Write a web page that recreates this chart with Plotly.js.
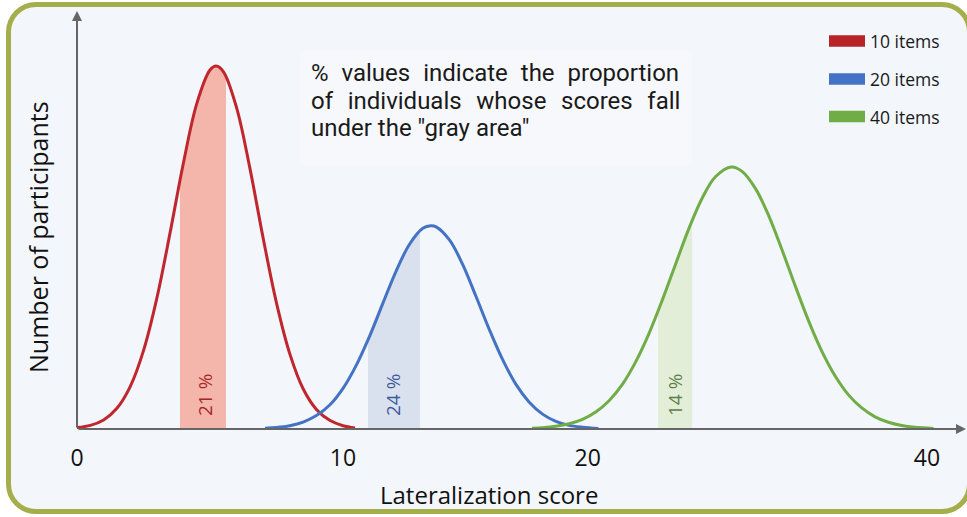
<!DOCTYPE html>
<html>
<head>
<meta charset="utf-8">
<script src="https://cdn.plot.ly/plotly-3.0.1.min.js"></script>
<style>
html,body{margin:0;padding:0;background:#ffffff;}
#wrap{position:relative;width:967px;height:517px;overflow:hidden;}
#frame{position:absolute;left:6px;top:2px;width:966px;height:512px;box-sizing:border-box;border:5px solid #a4ae4a;border-radius:30px;background:#f3f6fa;}
#plot{position:absolute;left:0;top:0;width:967px;height:517px;}
</style>
</head>
<body>
<div id="wrap">
<div id="frame"></div>
<div id="plot"></div>
</div>
<script>
// ---- data (x in display units of the schematic axis, y in relative count units) ----
const red_x = [0,0.5,1,1.5,2,2.5,3,3.5,4,4.5,5,5.23,5.5,6,6.5,7,7.5,8,8.5,9,9.5,10,10.45];
const red_y = [0.4,1.0,2.5,5.7,11.7,21.6,36.0,54.1,73.3,89.6,98.9,100,98.5,88.5,71.8,52.5,34.7,20.7,11.1,5.4,2.4,0.9,0.3];
const blue_x = [7.07,7.5,8,8.5,9,9.5,10,10.5,11,11.5,12,12.5,13,13.3,13.5,14,14.5,15,15.5,16,16.5,17,17.5,18,18.5,19,19.6];
const blue_y = [0.2,0.4,0.9,1.9,3.7,6.6,11.2,17.6,25.6,34.7,43.6,50.9,55.3,56,55.7,52.1,45.3,36.5,27.4,19.1,12.3,7.4,4.1,2.1,1.0,0.5,0.15];
const green_x = [17.1,17.5,18,18.5,19,19.5,20,20.5,21,21.5,22,22.5,23,23.5,24,24.6,25,25.5,26,26.5,27,27.5,28,28.5,29,29.5,30,30.5,31,31.5,32.2];
const green_y = [0.2,0.36,0.74,1.44,2.66,4.68,7.79,12.3,18.5,26.3,35.5,45.4,55.2,63.6,69.5,72.2,71.0,66.3,58.8,49.4,39.4,29.8,21.4,14.6,9.4,5.8,3.36,1.85,0.97,0.48,0.17];
// shaded "gray area" bands
const red_band_x = [3.87,4,4.5,5,5.23,5.6];
const red_band_y = [68.4,73.3,89.6,98.9,100,97.2];
const blue_band_x = [10.94,11,11.5,12,12.5,12.89];
const blue_band_y = [24.6,25.6,34.7,43.6,50.9,54.6];
const green_band_x = [21.84,22,22.5,23,23.12];
const green_band_y = [32.4,35.5,45.4,55.2,57.3];
const band_labels = ["21 %","24 %","14 %"];
const series_names = ["10 items","20 items","40 items"];
const tick_vals = [0,10,19.2,31.95];
const tick_text = ["0","10","20","40"];
const x_title = "Lateralization score";
const y_title = "Number of participants";
const note_lines = ["% values indicate the proportion","of individuals whose scores fall","under the \"gray area\""];

// ---- styles ----
const cRed = "#c0262d", cBlue = "#4472c4", cGreen = "#70ad47";
const fRed = "#f4b6aa", fBlue = "#d9e0ee", fGreen = "#e2eed8";

function band(x, y, color){
  return {x:x, y:y, type:"scatter", mode:"lines", line:{width:0, shape:"spline", color:color},
          fill:"tozeroy", fillcolor:color, hoverinfo:"skip", showlegend:false};
}
function curve(x, y, color, name){
  return {x:x, y:y, type:"scatter", mode:"lines", name:name,
          line:{color:color, width:3, shape:"spline", smoothing:1}, showlegend:false};
}

const traces = [
  band(red_band_x, red_band_y, fRed),
  band(blue_band_x, blue_band_y, fBlue),
  band(green_band_x, green_band_y, fGreen),
  curve(red_x, red_y, cRed, series_names[0]),
  curve(blue_x, blue_y, cBlue, series_names[1]),
  curve(green_x, green_y, cGreen, series_names[2])
];

const W = 967, H = 517;
const L = 77, R = 2, T = 12, B = 88;
const xMax = 33.38, yMax = 114.9;

// pixel helpers for decoration placement
const px = p => (p - L) / (W - L - R) * xMax;
const py = p => (H - B - p) / (H - B - T) * yMax;
const ppx = p => (p - L) / (W - L - R);
const ppy = p => (H - B - p) / (H - B - T);

const annotations = [];
// axis arrows
annotations.push({x:px(966), y:0, ax:0, ay:0, xref:"x", yref:"y", axref:"x", ayref:"y",
  showarrow:true, arrowhead:2, arrowsize:1, arrowwidth:2, arrowcolor:"#666666", text:""});
annotations.push({x:0, y:py(11), ax:0, ay:0, xref:"x", yref:"y", axref:"x", ayref:"y",
  showarrow:true, arrowhead:2, arrowsize:1, arrowwidth:2, arrowcolor:"#666666", text:""});

// axis titles (paper coordinates so they can sit outside the plot area)
annotations.push({x:ppx(489), y:ppy(495), xref:"paper", yref:"paper", xanchor:"center", yanchor:"middle",
  text:x_title, showarrow:false, font:{family:"Open Sans", size:24, color:"#111"}});
annotations.push({x:ppx(38), y:ppy(237), xref:"paper", yref:"paper", xanchor:"center", yanchor:"middle",
  text:y_title, showarrow:false, textangle:-90, font:{family:"Open Sans", size:25, color:"#111"}});

// band labels
const bandLabelPos = [[205,"#a5272b"],[393,"#3c5b9b"],[675,"#5d7f48"]];
band_labels.forEach((t,i)=>{
  annotations.push({x:px(bandLabelPos[i][0]), y:py(395), xref:"x", yref:"y", text:t, showarrow:false,
    textangle:-90, font:{family:"Open Sans", size:19, color:bandLabelPos[i][1]}});
});

// note text (justified lines)
const noteY = [73,101,128];
const noteSpacing = [7, 8.7, 0];
note_lines.forEach((t,i)=>{
  annotations.push({x:px(309), y:py(noteY[i]), xref:"x", yref:"y", xanchor:"left", yanchor:"middle",
    text:'<span style="word-spacing:'+noteSpacing[i]+'px">'+t+'</span>', showarrow:false,
    font:{family:"Roboto", size:24, color:"#1a1a1a"}});
});

// legend
const legY = [41,79,116.5];
const legC = ["#b82328", cBlue, cGreen];
const shapes = [];
series_names.forEach((n,i)=>{
  shapes.push({type:"rect", xref:"x", yref:"y", x0:px(829), x1:px(865), y0:py(legY[i]+5.8), y1:py(legY[i]-5.8),
    fillcolor:legC[i], line:{width:0}});
  annotations.push({x:px(868), y:py(legY[i]), xref:"x", yref:"y", xanchor:"left", yanchor:"middle",
    text:n, showarrow:false, font:{family:"Open Sans", size:17.5, color:"#1a1a1a"}});
});
// note background
shapes.unshift({type:"rect", xref:"x", yref:"y", x0:px(300), x1:px(692), y0:py(165), y1:py(50),
  fillcolor:"#f6f8fb", line:{width:0}, layer:"below"});

const layout = {
  width:W, height:H,
  margin:{l:L, r:R, t:T, b:B, pad:0},
  paper_bgcolor:"rgba(0,0,0,0)", plot_bgcolor:"rgba(0,0,0,0)",
  showlegend:false,
  xaxis:{range:[0,xMax], showgrid:false, zeroline:false, showline:false,
    tickmode:"array", tickvals:tick_vals, ticktext:tick_text, ticks:"",
    tickfont:{family:"Open Sans", size:23, color:"#111"}, ticklabelstandoff:13},
  yaxis:{range:[0,yMax], showgrid:false, zeroline:false, showline:false, showticklabels:false, ticks:""},
  shapes:shapes,
  annotations:annotations
};

Plotly.newPlot("plot", traces, layout, {displayModeBar:false, staticPlot:true});
</script>
</body>
</html>
